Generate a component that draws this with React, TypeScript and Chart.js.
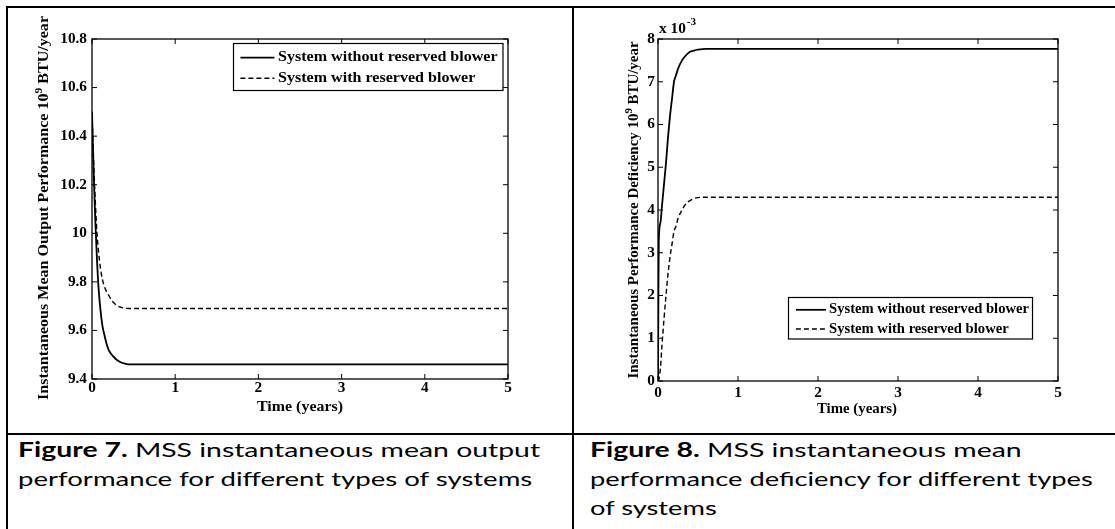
import React, { useEffect, useLayoutEffect, useRef, useState } from "react";
import { Chart, registerables } from "chart.js";

Chart.register(...registerables);

// ---------------- data ----------------
const seriesLabels = ["System without reserved blower", "System with reserved blower"];

// Figure 7 : instantaneous mean output performance (10^9 BTU/year)
const timeFig7 = [0, 0.02, 0.04, 0.06, 0.08, 0.1, 0.125, 0.15, 0.175, 0.2, 0.25, 0.3, 0.35, 0.4, 0.45, 0.5, 1, 2, 3, 4, 5];
const outputWithout = [10.5, 10.25, 10.05, 9.89, 9.77, 9.69, 9.62, 9.58, 9.545, 9.52, 9.495, 9.478, 9.468, 9.463, 9.46, 9.46, 9.46, 9.46, 9.46, 9.46, 9.46];
const outputWith = [10.5, 10.29, 10.13, 10.0, 9.92, 9.86, 9.81, 9.78, 9.76, 9.745, 9.718, 9.703, 9.695, 9.691, 9.69, 9.69, 9.69, 9.69, 9.69, 9.69, 9.69];

// Figure 8 : instantaneous performance deficiency (x 10^-3, 10^9 BTU/year)
const timeFig8 = [0, 0.005, 0.01, 0.03, 0.05, 0.075, 0.1, 0.125, 0.15, 0.175, 0.2, 0.225, 0.25, 0.3, 0.35, 0.4, 0.45, 0.5, 0.6, 1, 2, 3, 4, 5];
const deficiencyWithout = [0, 2.0, 3.3, 3.7, 4.1, 4.6, 5.1, 5.7, 6.2, 6.6, 7.0, 7.15, 7.3, 7.5, 7.62, 7.7, 7.73, 7.75, 7.77, 7.77, 7.77, 7.77, 7.77, 7.77];
const deficiencyWith = [0, 0, 0.02, 0.3, 0.85, 1.45, 2.0, 2.5, 2.9, 3.2, 3.5, 3.62, 3.8, 4.0, 4.15, 4.22, 4.27, 4.29, 4.3, 4.3, 4.3, 4.3, 4.3, 4.3];

const xTicksRange = [0, 5, 1];
const fig7YRange = [9.4, 10.8, 0.2];
const fig8YRange = [0, 8, 1];

const fig7YTitle = [{ t: "Instantaneous Mean Output Performance 10" }, { t: "9", sup: true }, { t: " BTU/year" }];
const fig8YTitle = [{ t: "Instantaneous Performance Deficiency 10" }, { t: "9", sup: true }, { t: " BTU/year" }];
const xTitle = "Time (years)";

const caption7 = [
  { parts: [{ text: "Figure 7.", bold: true }, { text: " MSS instantaneous mean output" }], width: 522 },
  { parts: [{ text: "performance for different types of systems" }], width: 514 },
];
const caption8 = [
  { parts: [{ text: "Figure 8.", bold: true }, { text: " MSS instantaneous mean" }], width: 432 },
  { parts: [{ text: "performance deficiency for different types" }], width: 503 },
  { parts: [{ text: "of systems" }], width: null },
];

// ---------------- drawing helpers ----------------
const SERIF = '"Liberation Serif", "Times New Roman", serif';

function fitText(ctx: CanvasRenderingContext2D, text: string, x: number, y: number, size: number, sx: number, align: CanvasTextAlign) {
  ctx.save();
  ctx.font = `bold ${size}px ${SERIF}`;
  ctx.textBaseline = "middle";
  const w = ctx.measureText(text).width * sx;
  let x0 = x;
  if (align === "center") x0 = x - w / 2;
  else if (align === "right") x0 = x - w;
  ctx.translate(x0, y);
  ctx.scale(sx, 1);
  ctx.textAlign = "left";
  ctx.fillText(text, 0, 0);
  ctx.restore();
}

function partsWidth(ctx: CanvasRenderingContext2D, parts: any[], size: number, supSize: number) {
  let w = 0;
  for (const p of parts) {
    ctx.font = `bold ${p.sup ? supSize : size}px ${SERIF}`;
    w += ctx.measureText(p.t).width;
  }
  return w;
}

function drawParts(ctx: CanvasRenderingContext2D, parts: any[], size: number, supSize: number, supRise: number) {
  let x = 0;
  for (const p of parts) {
    ctx.font = `bold ${p.sup ? supSize : size}px ${SERIF}`;
    ctx.fillText(p.t, x, p.sup ? -supRise : 0);
    x += ctx.measureText(p.t).width;
  }
}

const matlabPlugin = {
  id: "matlab",
  afterDraw(chart: any) {
    const cfg = chart.options.plugins.matlab;
    if (!cfg) return;
    const ctx: CanvasRenderingContext2D = chart.ctx;
    const a = chart.chartArea;
    const xs = chart.scales.x;
    const ys = chart.scales.y;
    ctx.save();
    ctx.fillStyle = "#000";
    ctx.strokeStyle = "#000";

    // axes box
    ctx.lineWidth = 1.3;
    ctx.strokeRect(a.left, a.top, a.right - a.left, a.bottom - a.top);

    // inward ticks on all sides
    const L = cfg.tickLen;
    ctx.lineWidth = 1;
    ctx.beginPath();
    for (const t of xs.ticks) {
      const px = xs.getPixelForValue(t.value);
      ctx.moveTo(px, a.bottom);
      ctx.lineTo(px, a.bottom - L);
      ctx.moveTo(px, a.top);
      ctx.lineTo(px, a.top + L);
    }
    for (const t of ys.ticks) {
      const py = ys.getPixelForValue(t.value);
      ctx.moveTo(a.left, py);
      ctx.lineTo(a.left + L, py);
      ctx.moveTo(a.right, py);
      ctx.lineTo(a.right - L, py);
    }
    ctx.stroke();

    // tick labels
    for (const t of xs.ticks) {
      fitText(ctx, String(t.label), xs.getPixelForValue(t.value), a.bottom + cfg.xLabelOffset, cfg.tickSize, cfg.tickSx, "center");
    }
    for (const t of ys.ticks) {
      fitText(ctx, String(t.label), a.left - cfg.yLabelPad, ys.getPixelForValue(t.value), cfg.tickSize, cfg.tickSx, "right");
    }

    // x title
    {
      ctx.font = `bold ${cfg.titleSize}px ${SERIF}`;
      const w = ctx.measureText(cfg.xTitle.text).width;
      fitText(ctx, cfg.xTitle.text, cfg.xTitle.cx, cfg.xTitle.cy, cfg.titleSize, cfg.xTitle.width / w, "center");
    }

    // y title (rotated, with superscript)
    {
      const yt = cfg.yTitle;
      const w = partsWidth(ctx, yt.parts, cfg.titleSize, cfg.titleSize * 0.72);
      const sx = yt.length / w;
      ctx.save();
      ctx.translate(yt.cx, yt.cy);
      ctx.rotate(-Math.PI / 2);
      ctx.scale(sx, 1);
      ctx.translate(-w / 2, 0);
      ctx.textBaseline = "middle";
      ctx.textAlign = "left";
      drawParts(ctx, yt.parts, cfg.titleSize, cfg.titleSize * 0.72, 5);
      ctx.restore();
    }

    // exponent label
    if (cfg.exponent) {
      const e = cfg.exponent;
      ctx.save();
      ctx.textBaseline = "middle";
      ctx.font = `bold ${cfg.tickSize}px ${SERIF}`;
      ctx.translate(e.x, e.y);
      ctx.scale(cfg.tickSx, 1);
      ctx.fillText("x 10", 0, 0);
      const w = ctx.measureText("x 10").width;
      ctx.font = `bold ${Math.round(cfg.tickSize * 0.7)}px ${SERIF}`;
      ctx.fillText("-3", w + 1, -7);
      ctx.restore();
    }

    // legend
    {
      const lg = cfg.legend;
      ctx.fillStyle = "#fff";
      ctx.fillRect(lg.left, lg.top, lg.right - lg.left, lg.bottom - lg.top);
      ctx.lineWidth = 1.2;
      ctx.strokeStyle = "#000";
      ctx.strokeRect(lg.left, lg.top, lg.right - lg.left, lg.bottom - lg.top);
      ctx.fillStyle = "#000";
      chart.data.datasets.forEach((ds: any, i: number) => {
        const y = lg.rows[i];
        ctx.save();
        ctx.lineWidth = ds.borderWidth;
        ctx.setLineDash(ds.borderDash || []);
        ctx.beginPath();
        ctx.moveTo(lg.lineX[0], y);
        ctx.lineTo(lg.lineX[1], y);
        ctx.stroke();
        ctx.restore();
        ctx.font = `bold ${lg.size}px ${SERIF}`;
        const w = ctx.measureText(seriesLabels[0]).width;
        fitText(ctx, ds.label, lg.textX, y, lg.size, lg.textW / w, "left");
      });
    }
    ctx.restore();
  },
};

function toPoints(xs: number[], ys: number[]) {
  return xs.map((x, i) => ({ x, y: ys[i] }));
}

function makeConfig(o: any) {
  return {
    type: "line",
    data: {
      datasets: [
        {
          label: seriesLabels[0],
          data: toPoints(o.time, o.s1),
          borderColor: "#000",
          borderWidth: 1.8,
          pointRadius: 0,
          fill: false,
          cubicInterpolationMode: "monotone",
        },
        {
          label: seriesLabels[1],
          data: toPoints(o.time, o.s2),
          borderColor: "#000",
          borderWidth: 1.4,
          borderDash: [5, 3],
          pointRadius: 0,
          fill: false,
          cubicInterpolationMode: "monotone",
        },
      ],
    },
    options: {
      responsive: false,
      animation: false,
      devicePixelRatio: 1,
      events: [],
      layout: { padding: { top: o.padTop, right: o.padRight, left: 0, bottom: 0 } },
      plugins: {
        legend: { display: false },
        tooltip: { enabled: false },
        matlab: o.matlab,
      },
      scales: {
        x: {
          type: "linear",
          min: xTicksRange[0],
          max: xTicksRange[1],
          ticks: { stepSize: xTicksRange[2], display: false, callback: (v: number) => String(v) },
          grid: { display: false, drawTicks: false },
          border: { display: false },
          afterFit: (s: any) => {
            s.height = o.xHeight;
          },
        },
        y: {
          type: "linear",
          min: o.yRange[0],
          max: o.yRange[1],
          ticks: { stepSize: o.yRange[2], display: false, callback: o.yFmt },
          grid: { display: false, drawTicks: false },
          border: { display: false },
          afterFit: (s: any) => {
            s.width = o.yWidth;
          },
        },
      },
    },
    plugins: [matlabPlugin],
  };
}

function ChartCanvas({ config, left, top, width, height }: any) {
  const ref = useRef<HTMLCanvasElement>(null);
  useEffect(() => {
    const chart = new Chart(ref.current as HTMLCanvasElement, config() as any);
    return () => chart.destroy();
  }, []);
  return (
    <canvas
      ref={ref}
      width={width}
      height={height}
      style={{ position: "absolute", left, top, width, height, display: "block" }}
    />
  );
}

const fig7Config = () =>
  makeConfig({
    time: timeFig7,
    s1: outputWithout,
    s2: outputWith,
    yRange: fig7YRange,
    yFmt: (v: number) => String(parseFloat(v.toFixed(1))),
    padTop: 29,
    padRight: 62,
    yWidth: 82,
    xHeight: 51,
    matlab: {
      tickLen: 5,
      tickSize: 15,
      tickSx: 1.02,
      titleSize: 15,
      xLabelOffset: 9,
      yLabelPad: 5,
      xTitle: { text: xTitle, cx: 290, cy: 397, width: 86 },
      yTitle: { parts: fig7YTitle, cx: 34, cy: 198, length: 384 },
      legend: { left: 223.5, top: 33.5, right: 493, bottom: 80.5, rows: [47.6, 68.3], lineX: [230.4, 264.4], textX: 268, textW: 219.6, size: 15 },
    },
  });

const fig8Config = () =>
  makeConfig({
    time: timeFig8,
    s1: deficiencyWithout,
    s2: deficiencyWith,
    yRange: fig8YRange,
    yFmt: (v: number) => String(Math.round(v)),
    padTop: 29,
    padRight: 57,
    yWidth: 78,
    xHeight: 49,
    matlab: {
      tickLen: 5,
      tickSize: 15,
      tickSx: 1.02,
      titleSize: 14,
      xLabelOffset: 12,
      yLabelPad: 3,
      xTitle: { text: xTitle, cx: 277, cy: 399, width: 80 },
      yTitle: { parts: fig8YTitle, cx: 54, cy: 200, length: 337 },
      exponent: { x: 79, y: 19 },
      legend: { left: 208.5, top: 287.5, right: 452.5, bottom: 329, rows: [299.8, 319], lineX: [215.9, 246], textX: 249, textW: 200, size: 14 },
    },
  });

const CAPTION_FONT = 'Lato, "Noto Sans", sans-serif';
const LINE_H = 29;

function CaptionBlock({ left, top, lines }: any) {
  const refs = useRef<(HTMLDivElement | null)[]>([]);
  const [scales, setScales] = useState<number[]>(lines.map(() => 1));
  useLayoutEffect(() => {
    const out: number[] = [];
    let last = 1;
    lines.forEach((ln: any, i: number) => {
      const el = refs.current[i];
      if (el && ln.width) last = ln.width / el.offsetWidth;
      out.push(last);
    });
    setScales(out);
  }, []);
  return (
    <>
      {lines.map((ln: any, i: number) => (
        <div
          key={i}
          ref={(el) => {
            refs.current[i] = el;
          }}
          style={{
            position: "absolute",
            left,
            top: top + i * LINE_H,
            whiteSpace: "nowrap",
            transformOrigin: "0 0",
            transform: `scaleX(${scales[i]})`,
            fontFamily: CAPTION_FONT,
            fontSize: 20,
            lineHeight: `${LINE_H}px`,
            color: "#000",
          }}
        >
          {ln.parts.map((p: any, j: number) => (
            <span key={j} style={{ fontWeight: p.bold ? 700 : 400 }}>
              {p.text}
            </span>
          ))}
        </div>
      ))}
    </>
  );
}

const line = (l: number, t: number, w: number, h: number) => (
  <div style={{ position: "absolute", left: l, top: t, width: w, height: h, background: "#000" }} />
);

export default function App() {
  return (
    <div
      style={{
        position: "absolute",
        left: 0,
        top: 0,
        width: 1115,
        height: 529,
        overflow: "hidden",
        background: "#fff",
      }}
    >
      <ChartCanvas config={fig7Config} left={10} top={10} width={560} height={420} />
      <ChartCanvas config={fig8Config} left={580} top={10} width={535} height={420} />
      {line(6, 6, 1109, 2)}
      {line(6, 6, 2, 523)}
      {line(572, 6, 2, 523)}
      {line(6, 433, 1109, 2)}
      <CaptionBlock left={18} top={435} lines={caption7} />
      <CaptionBlock left={590} top={435} lines={caption8} />
    </div>
  );
}
